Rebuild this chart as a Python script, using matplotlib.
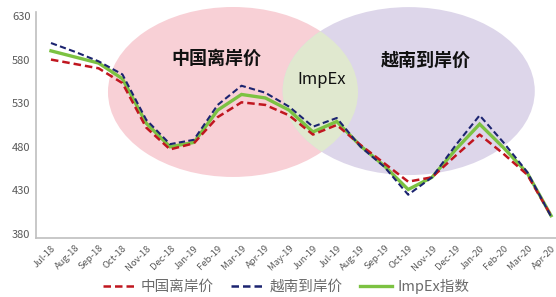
import matplotlib
matplotlib.use("Agg")
import matplotlib.pyplot as plt
from matplotlib.patches import Ellipse
from matplotlib.lines import Line2D

plt.rcParams['font.family'] = ['Noto Sans CJK SC', 'DejaVu Sans']

months = ["Jul-18", "Aug-18", "Sep-18", "Oct-18", "Nov-18", "Dec-18", "Jan-19", "Feb-19",
          "Mar-19", "Apr-19", "May-19", "Jun-19", "Jul-19", "Aug-19", "Sep-19", "Oct-19",
          "Nov-19", "Dec-19", "Jan-20", "Feb-20", "Mar-20", "Apr-20"]
china_fob = [580, 575, 570, 553, 502, 477, 484, 514, 531, 528, 516, 494, 505, 482, 461, 440,
             445, 470, 494, 472, 448, 401]
vietnam_cif = [599, 589, 578, 563, 511, 483, 488, 528, 550, 542, 526, 503, 513, 480, 457, 425,
               445, 482, 516, 485, 451, 400]
impex_index = [590, 583, 576, 558, 507, 480, 485, 522, 540, 536, 522, 497, 509, 481, 458, 431,
               445, 477, 506, 479, 450, 401]
yticks = [380, 430, 480, 530, 580, 630]
labels = ["中国离岸价", "越南到岸价", "ImpEx指数"]
bubble_labels = ["中国离岸价", "越南到岸价", "ImpEx"]

fig = plt.figure(figsize=(5.56, 2.97), dpi=100)
ax = fig.add_axes([0.0647, 0.1987, 0.935, 0.761])

x = list(range(len(months)))

# Venn-like background bubbles (axes fraction coordinates)
pink = Ellipse((0.379, 0.646), 0.481, 0.752, transform=ax.transAxes,
               facecolor="#f8d0d6", edgecolor="none", zorder=0, clip_on=False)
purple = Ellipse((0.717, 0.650), 0.485, 0.743, transform=ax.transAxes,
                 facecolor="#ddd6ea", edgecolor="none", zorder=0, clip_on=False)
ax.add_patch(pink)
ax.add_patch(purple)
inter = Ellipse((0.379, 0.646), 0.481, 0.752, transform=ax.transAxes,
                facecolor="#e0e8cf", edgecolor="none", zorder=0.5, clip_on=True)
ax.add_patch(inter)
inter.set_clip_path(purple)

ax.text(0.348, 0.795, bubble_labels[0], transform=ax.transAxes, ha="center", va="center",
        fontsize=13, fontweight="bold", color="#111111", zorder=1)
ax.text(0.750, 0.787, bubble_labels[1], transform=ax.transAxes, ha="center", va="center",
        fontsize=13, fontweight="bold", color="#111111", zorder=1)
ax.text(0.550, 0.702, bubble_labels[2], transform=ax.transAxes, ha="center", va="center",
        fontsize=12, color="#111111", zorder=1)

ax.plot(x, impex_index, color="#7cc242", lw=2.4, zorder=3, solid_joinstyle="miter")
ax.plot(x, china_fob, color="#c0161f", lw=1.8, ls=(0, (3, 1.6)), zorder=4)
ax.plot(x, vietnam_cif, color="#1c2470", lw=1.5, ls=(0, (3, 1.6)), zorder=5)

ax.set_xlim(-0.63, 21.2)
ax.set_ylim(375.4, 634.6)
ax.set_yticks(yticks)
ax.set_yticklabels([str(v) for v in yticks], fontsize=8, color="#595959")
ax.set_xticks(x)
ax.set_xticklabels(months, rotation=45, ha="right", rotation_mode="anchor",
                   fontsize=6.8, color="#595959")
ax.tick_params(axis="both", length=0, pad=4)
ax.tick_params(axis="x", pad=4)
for s in ["top", "right"]:
    ax.spines[s].set_visible(False)
ax.spines["left"].set_color("#bfbfbf")
ax.spines["bottom"].set_color("#bfbfbf")
ax.spines["left"].set_linewidth(1.2)
ax.spines["bottom"].set_linewidth(1.2)
ax.patch.set_alpha(0)

handles = [Line2D([], [], color="#c0161f", lw=1.8, ls=(0, (3, 1.6))),
           Line2D([], [], color="#1c2470", lw=1.8, ls=(0, (3, 1.6))),
           Line2D([], [], color="#7cc242", lw=2.4)]
leg = fig.legend(handles, labels, loc="center", bbox_to_anchor=(0.515, 0.035), ncol=3,
                 frameon=False, fontsize=10.5, handlelength=2.2, handletextpad=0.4,
                 columnspacing=1.2)
for t in leg.get_texts():
    t.set_color("#6b6b6b")

fig.savefig("out.png", dpi=100)
